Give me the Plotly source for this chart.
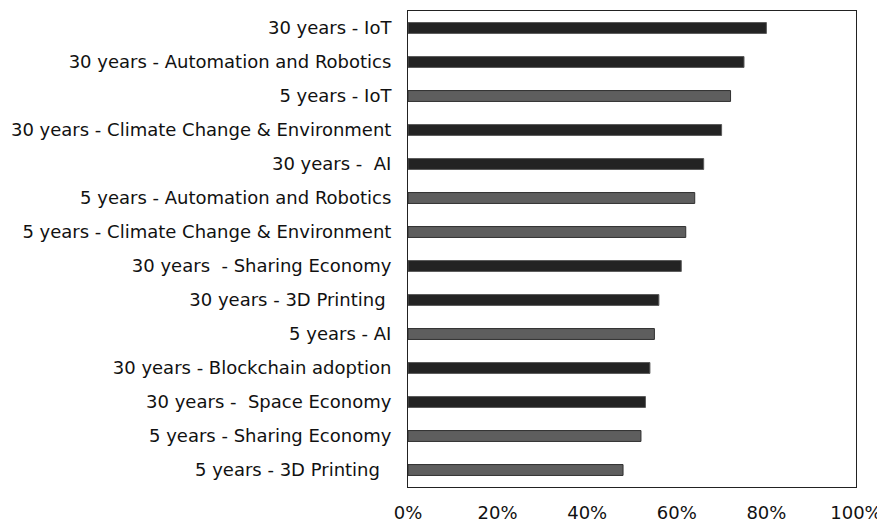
import plotly.graph_objects as go

categories = [
    "30 years - IoT",
    "30 years - Automation and Robotics",
    "5 years - IoT",
    "30 years - Climate Change & Environment",
    "30 years -  AI",
    "5 years - Automation and Robotics",
    "5 years - Climate Change & Environment",
    "30 years  - Sharing Economy",
    "30 years - 3D Printing ",
    "5 years - AI",
    "30 years - Blockchain adoption",
    "30 years -  Space Economy",
    "5 years - Sharing Economy",
    "5 years - 3D Printing  ",
]
values = [80, 75, 72, 70, 66, 64, 62, 61, 56, 55, 54, 53, 52, 48]
horizon = ["30", "30", "5", "30", "30", "5", "5", "30", "30", "5", "30", "30", "5", "5"]
tick_vals = [0, 20, 40, 60, 80, 100]
tick_text = ["0%", "20%", "40%", "60%", "80%", "100%"]

fill = {"30": "#232323", "5": "#5e5e5e"}
edge = {"30": "#5a5a5a", "5": "#303030"}

fig = go.Figure(go.Bar(
    x=values,
    y=categories,
    orientation="h",
    marker=dict(color=[fill[h] for h in horizon],
                line=dict(color=[edge[h] for h in horizon], width=1)),
    width=0.32,
))

fig.update_layout(
    width=877, height=517,
    margin=dict(l=400, r=29, t=3, b=38),
    paper_bgcolor="white", plot_bgcolor="white",
    font=dict(family="DejaVu Sans, sans-serif", size=18, color="#111"),
    showlegend=False,
)
fig.update_xaxes(range=[0, 100], tickvals=tick_vals, ticktext=tick_text,
                 showgrid=False, zeroline=False, showline=True, linecolor="#222",
                 linewidth=1, mirror=True, ticks="", ticklabelstandoff=9,
                 automargin=False)
fig.update_yaxes(categoryorder="array", categoryarray=categories[::-1],
                 autorange=True, showgrid=False, showline=True, linecolor="#222",
                 linewidth=1, mirror=True, ticks="", ticklabelstandoff=12,
                 automargin=False)

fig.write_html("out.html")
